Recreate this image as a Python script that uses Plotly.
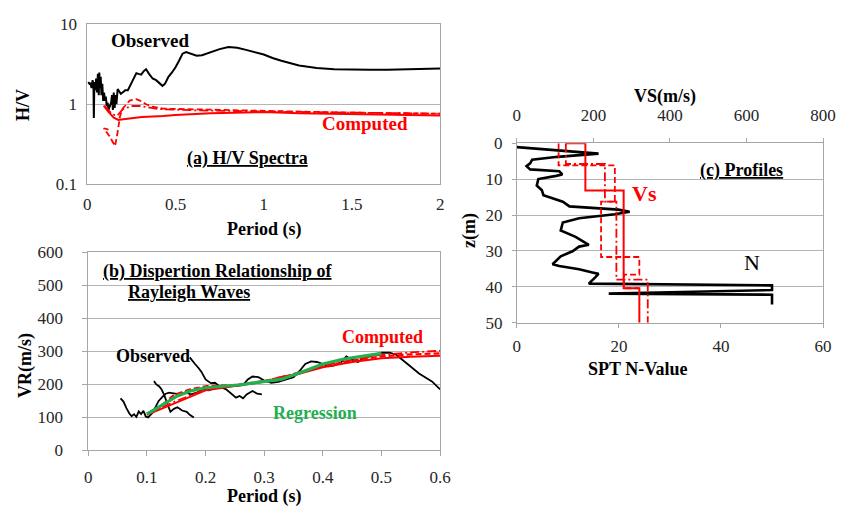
import plotly.graph_objects as go

# ---------------- (a) H/V spectra ----------------
hv_obs_T = [0.005,0.012,0.018,0.024,0.03,0.035,0.037,0.04,0.045,0.05,0.055,0.06,0.065,0.068,0.072,0.076,0.08,0.085,0.09,0.095,0.1,0.105,0.11,0.115,0.12,0.128,0.135,0.14,0.145,0.15,0.155,0.16,0.165,0.172,0.18,0.19,0.2,0.215,0.23,0.245,0.26,0.278,0.29,0.305,0.32,0.333,0.35,0.37,0.39,0.41,0.426,0.44,0.46,0.48,0.5,0.52,0.54,0.56,0.59,0.62,0.65,0.7,0.75,0.8,0.85,0.9,0.95,1.0,1.05,1.1,1.2,1.3,1.4,1.5,1.6,1.7,1.8,1.9,2.0]
hv_obs = [1.9,1.8,1.85,1.6,2.0,1.7,0.67,1.9,1.5,2.1,1.4,2.4,1.3,2.5,1.6,2.2,1.3,1.8,1.1,1.4,1.1,1.25,0.95,1.05,0.85,0.95,1.05,1.3,0.85,1.4,0.9,1.3,1.0,1.55,1.45,1.35,1.4,1.5,1.5,1.75,2.0,2.45,2.4,2.35,2.6,2.75,2.4,2.1,2.0,1.8,1.7,1.8,2.2,2.5,2.9,3.5,4.3,4.5,4.3,4.05,4.1,4.5,4.9,5.2,5.1,4.8,4.5,4.2,3.8,3.5,3.05,2.85,2.75,2.7,2.7,2.7,2.72,2.75,2.8]

hv_cs_T = [0.093,0.12,0.15,0.176,0.204,0.26,0.31,0.43,0.5,0.7,0.9,1.0,1.2,1.5,1.8,2.0]
hv_cs = [0.96,0.8,0.68,0.635,0.65,0.67,0.69,0.71,0.73,0.77,0.8,0.8,0.77,0.75,0.73,0.72]

hv_cd_T = [0.12,0.093,0.125,0.157,0.17,0.185,0.2,0.24,0.278,0.31,0.333,0.37,0.43,0.6,0.8,1.0,1.3,1.6,2.0]
hv_cd = [0.48,0.5,0.4,0.3,0.42,0.7,0.88,1.11,1.16,1.08,1.0,0.93,0.88,0.86,0.85,0.83,0.8,0.78,0.76]

hv_cdd_T = [0.1,0.14,0.17,0.2,0.25,0.3,0.4,0.6,1.0,1.5,2.0]
hv_cdd = [0.95,0.75,0.72,0.86,0.95,0.95,0.87,0.84,0.81,0.78,0.76]

# ---------------- (b) dispersion ----------------
vr_obs1_T = [0.055,0.06,0.065,0.07,0.074,0.078,0.082,0.086,0.09,0.094,0.098,0.102,0.11,0.12,0.128,0.132,0.138,0.146,0.156,0.165,0.175,0.185,0.195,0.205,0.215,0.225,0.235,0.25,0.264,0.272,0.28,0.29,0.3,0.312,0.324,0.335,0.35,0.36,0.37,0.38,0.39,0.4,0.41,0.42,0.43,0.44,0.45,0.46,0.47,0.48,0.49,0.5,0.514,0.525,0.547,0.564,0.586,0.6]
vr_obs1 = [158,148,128,112,104,110,102,118,110,120,103,100,115,150,165,172,175,172,170,176,170,175,185,182,188,190,195,196,198,215,224,222,212,205,208,214,222,240,262,270,268,262,255,258,265,285,275,268,280,285,290,296,296,290,258,233,209,185]
vr_obs2_T = [0.112,0.116,0.121,0.125,0.129,0.135,0.14,0.146,0.152,0.16,0.168,0.173,0.177,0.18]
vr_obs2 = [210,200,194,185,170,141,117,126,131,121,117,108,104,100]
vr_obs3_T = [0.173,0.178,0.182,0.188,0.193,0.2,0.209,0.216,0.224,0.235,0.246,0.252,0.258,0.264,0.27,0.28,0.288,0.296]
vr_obs3 = [282,270,262,250,238,215,204,205,194,185,170,160,165,158,170,180,172,170]

vr_cs_T = [0.1,0.15,0.2,0.25,0.3,0.35,0.4,0.45,0.5,0.55,0.6]
vr_cs = [108,145,182,195,208,228,252,268,279,284,287]
vr_cd_T = [0.1,0.12,0.146,0.174,0.202,0.25,0.3,0.35,0.4,0.45,0.5,0.55,0.6]
vr_cd = [112,128,168,185,195,198,210,230,255,272,285,291,294]
vr_cdd_T = [0.1,0.15,0.2,0.25,0.3,0.35,0.4,0.45,0.5,0.55,0.6]
vr_cdd = [110,150,185,196,210,232,258,275,290,297,302]

vr_reg_T = [0.1,0.124,0.152,0.174,0.2,0.26,0.3,0.33,0.36,0.4,0.436,0.47,0.5]
vr_reg = [110,136,165,180,190,199,208,216,235,262,277,286,294]

# ---------------- (c) profiles ----------------
spt_N = [0,16,8,3,2.6,1.9,2.6,8.3,8.9,7.7,4.2,3.9,4.9,5.2,9,10.3,19.9,22.1,19.2,12.2,9,8.6,11.5,14.1,12.2,10.9,8.6,7,8.3,12.2,14.8,16,15.4,14.8,14.1,50,50,30,18,50,50]
spt_z = [1.1,2.9,3.8,4.6,5.6,6.4,7.3,7.8,8.7,9.1,10.0,11.8,13.1,14.5,16.3,17.6,18.5,19.1,19.8,20.9,22.1,24.3,26.1,28.3,28.8,30.1,31.5,33.7,34.2,35.1,36.0,36.4,37.3,38.2,39.1,39.6,40.9,41.5,41.9,42.2,44.9]

vs_s = [128,179,179,279,279,320,320]
vs_s_z = [0,0,13.2,13.2,40.4,40.4,50]
vs_d = [109,109,256,256,220,220,320,320,280,280,320]
vs_d_z = [0,6.2,6.2,16.3,16.3,31.7,31.7,36.6,36.6,40.4,40.4]
vs_dd = [128,128,230,230,260,260,342,342]
vs_dd_z = [0,5.8,5.8,16.3,16.3,38,38,50]

W, H = 853, 517
SERIF = "Liberation Serif"
RED = "#ff0000"
GRID = "#b4b4b4"
AX = "#a6a6a6"

def px(x):
    return x / W

def py(y):
    return 1 - y / H

fig = go.Figure()

def line(x, y, xa, ya, color, width, dash="solid"):
    fig.add_trace(go.Scatter(x=x, y=y, xaxis=xa, yaxis=ya, mode="lines",
                             line=dict(color=color, width=width, dash=dash),
                             showlegend=False, hoverinfo="skip"))

DASH = "6px,3px"
DASHDOT = "9px,3px,2px,3px"

# (a)
line(hv_obs_T, hv_obs, "x", "y", "black", 2)
line(hv_cdd_T, hv_cdd, "x", "y", RED, 1.8, DASHDOT)
line(hv_cd_T, hv_cd, "x", "y", RED, 1.8, DASH)
line(hv_cs_T, hv_cs, "x", "y", RED, 2)

# (b)
line(vr_obs1_T, vr_obs1, "x2", "y2", "black", 1.8)
line(vr_obs2_T, vr_obs2, "x2", "y2", "black", 1.8)
line(vr_obs3_T, vr_obs3, "x2", "y2", "black", 1.8)
line(vr_cdd_T, vr_cdd, "x2", "y2", RED, 1.8, DASHDOT)
line(vr_cd_T, vr_cd, "x2", "y2", RED, 2.2, DASH)
line(vr_cs_T, vr_cs, "x2", "y2", RED, 2)
line(vr_reg_T, vr_reg, "x2", "y2", "#1fb050", 3.2)

# (c)
line(vs_dd, vs_dd_z, "x4", "y3", RED, 1.8, DASHDOT)
line(vs_d, vs_d_z, "x4", "y3", RED, 1.8, DASH)
line(vs_s, vs_s_z, "x4", "y3", RED, 2)
line(spt_N, spt_z, "x3", "y3", "black", 2.6)

tickfont = dict(family=SERIF, size=17, color="#262626")
common = dict(showline=True, mirror=True, linecolor=AX, linewidth=1,
              tickfont=tickfont, zeroline=False, fixedrange=True)

fig.update_layout(
    width=W, height=H, margin=dict(l=0, r=0, t=0, b=0),
    paper_bgcolor="white", plot_bgcolor="white", showlegend=False,
    font=dict(family=SERIF, color="black"),
    xaxis=dict(domain=[px(85), px(445)], anchor="y", range=[0, 2], dtick=0.5,
               showgrid=False, ticklabelstandoff=5, **common),
    yaxis=dict(domain=[py(181.7), py(16)], anchor="x", type="log", range=[-1, 1],
               tickvals=[0.1, 1, 10], ticktext=["0.1", "1", "10"],
               showgrid=True, gridcolor=GRID, ticklabelstandoff=6, **common),
    xaxis2=dict(domain=[px(86), px(445)], anchor="y2", range=[0, 0.6], dtick=0.1,
                showgrid=False, ticks="outside", ticklen=5, tickcolor=AX,
                ticklabelstandoff=6, **common),
    yaxis2=dict(domain=[py(458.3), py(252.7)], anchor="x2", range=[0, 600], dtick=100,
                showgrid=True, gridcolor=GRID, ticks="outside", ticklen=5, tickcolor=AX,
                ticklabelstandoff=16, **common),
    xaxis3=dict(domain=[px(523.3), px(835.7)], anchor="y3", range=[0, 60], dtick=20,
                showgrid=False, ticks="outside", ticklen=4, tickcolor=AX,
                ticklabelstandoff=4, side="bottom", **common),
    xaxis4=dict(domain=[px(523.3), px(835.7)], anchor="y3", overlaying="x3", side="top",
                range=[0, 800], dtick=200, showgrid=False, ticks="outside", ticklen=4,
                tickcolor=AX, ticklabelstandoff=10, **common),
    yaxis3=dict(domain=[py(325.7), py(139.3)], anchor="x3", range=[50, 0], dtick=10,
                showgrid=True, gridcolor=GRID, ticks="outside", ticklen=4, tickcolor=AX,
                ticklabelstandoff=6, **common),
)

def text(x, y, s, size=18, color="black", bold=True, angle=0, xanchor="center"):
    t = f"<b>{s}</b>" if bold else s
    fig.add_annotation(x=px(x), y=py(y), xref="paper", yref="paper", text=t,
                       showarrow=False, xanchor=xanchor, yanchor="middle",
                       textangle=angle, font=dict(family=SERIF, size=size, color=color))

# (a) labels
text(149, 33, "Observed", 19)
text(368, 119, "Computed", 19, RED)
text(248, 155, "<u>(a) H/V Spectra</u>", 18)
text(265, 229, "Period (s)", 18)
text(20, 100, "H/V", 18, angle=-90)

# (b) labels
text(218, 272, "<u>(b) Dispertion Relationship of</u>", 18)
text(189, 294, "<u>Rayleigh Waves</u>", 18)
text(152, 360, "Observed", 18)
text(386, 340, "Computed", 18, RED)
text(317, 419, "Regression", 18, "#1fb050")
text(265, 506, "Period (s)", 18)
text(22, 370, "VR(m/s)", 18, angle=-90)

# (c) labels
text(674, 91, "VS(m/s)", 18)
text(647, 374, "SPT N-Value", 18)
text(475, 230, "z(m)", 18, angle=-90)
text(752, 168, "<u>(c) Profiles</u>", 18)
text(654, 192, "Vs", 22, RED)
text(763, 263, "N", 22, bold=False)

fig.write_html("out.html")
